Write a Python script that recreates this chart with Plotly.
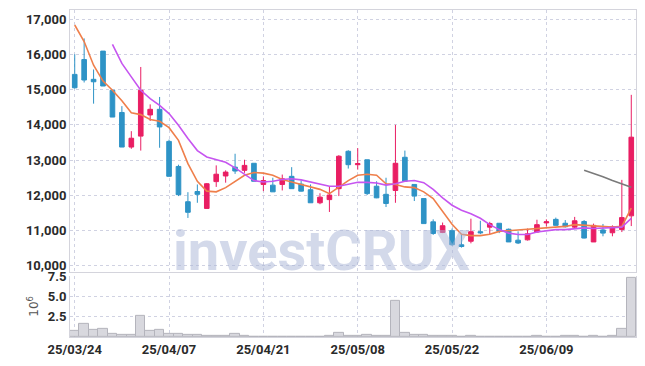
import plotly.graph_objects as go

dates = ["25/03/24", "25/03/25", "25/03/26", "25/03/27", "25/03/28", "25/03/31",
         "25/04/01", "25/04/02", "25/04/03", "25/04/04", "25/04/07", "25/04/08", "25/04/09", "25/04/10",
         "25/04/11", "25/04/14", "25/04/15", "25/04/16", "25/04/17", "25/04/18", "25/04/21", "25/04/22",
         "25/04/23", "25/04/24", "25/04/25", "25/04/28", "25/04/29", "25/04/30",
         "25/05/02", "25/05/07", "25/05/08", "25/05/09", "25/05/12", "25/05/13", "25/05/14", "25/05/15",
         "25/05/16", "25/05/19", "25/05/20", "25/05/21", "25/05/22", "25/05/23", "25/05/26", "25/05/27",
         "25/05/28", "25/05/29", "25/05/30",
         "25/06/02", "25/06/04", "25/06/05", "25/06/09", "25/06/10", "25/06/11", "25/06/12", "25/06/13",
         "25/06/16", "25/06/17", "25/06/18", "25/06/19", "25/06/20"]

opens = [15430, 15850, 15290, 16090, 14980, 14350, 13370, 13680, 14280, 14440,
         13530, 12820, 11820, 12110, 11630, 12390, 12550, 12800, 12710, 12910,
         12310, 12290, 12310, 12540, 12320, 12160, 11790, 11880, 12190, 13250,
         12870, 13010, 12260, 12030, 12140, 13080, 12310, 11910, 11250, 10950,
         11000, 10600, 10700, 10970, 11100, 11210, 11040, 10730, 10740, 10960,
         11220, 11320, 11210, 11100, 11260, 10680, 11020, 10940, 11030, 11420]
highs = [16000, 16450, 15570, 16090, 14980, 14530, 13820, 15640, 14580, 14790,
         13580, 12870, 12090, 12310, 12350, 12850, 12710, 13180, 13010, 12910,
         12540, 12500, 12590, 12800, 12420, 12310, 12060, 12240, 13140, 13280,
         13340, 13010, 12400, 12500, 14000, 13270, 12310, 11910, 11320, 11230,
         11060, 10900, 11340, 11280, 11250, 11210, 11060, 10980, 11060, 11310,
         11320, 11370, 11300, 11390, 11300, 11200, 11190, 11150, 12440, 14850]
lows = [15030, 15200, 14600, 15100, 14220, 13370, 13320, 13270, 14110, 13350,
        12540, 11980, 11360, 11790, 11630, 12240, 12360, 12610, 12640, 12400,
        12120, 12100, 12140, 12190, 12110, 11790, 11750, 11530, 11980, 12760,
        12730, 12010, 11920, 11670, 11790, 12400, 11840, 11200, 10880, 10930,
        10570, 10520, 10640, 10900, 10900, 10930, 10680, 10620, 10720, 10940,
        11120, 11150, 11090, 11060, 10780, 10680, 10840, 10840, 10960, 11130]
closes = [15050, 15270, 15220, 15100, 14220, 13370, 13620, 14980, 14440, 13940,
          12540, 12020, 11520, 12030, 12330, 12600, 12660, 12690, 12850, 12400,
          12420, 12100, 12470, 12190, 12120, 11790, 11950, 12010, 13110, 12870,
          12900, 12050, 11930, 11770, 12910, 12400, 11980, 11200, 10920, 11140,
          10600, 10550, 10970, 10940, 11200, 10980, 10680, 10650, 10910, 11170,
          11250, 11150, 11110, 11280, 10790, 11150, 10930, 11110, 11370, 13650]

ma_short = [16830, 16360, 15690, 15240, 14980, 14680, 14340, 14290, 14150, 14100,
            13920, 13560, 12900, 12400, 12120, 12100, 12220, 12400, 12570, 12650,
            12630, 12570, 12450, 12380, 12310, 12240, 12170, 12050, 12240, 12420,
            12570, 12600, 12570, 12330, 12310, 12240, 12220, 12100, 11910, 11560,
            11180, 10900, 10860, 10860, 10900, 10980, 11000, 11000, 11030, 11060,
            11080, 11100, 11120, 11170, 11150, 11120, 11100, 11100, 11120, 11640]
ma_mid = [None, None, None, None, 16280, 15740, 15360, 14980, 14740, 14550,
          14320, 13990, 13610, 13270, 13090, 13010, 12940, 12780, 12590, 12420,
          12380, 12400, 12450, 12470, 12440, 12380, 12310, 12260, 12260, 12320,
          12370, 12370, 12350, 12290, 12330, 12400, 12420, 12360, 12170, 11930,
          11720, 11580, 11480, 11350, 11170, 11030, 10930, 10890, 10890, 10960,
          11000, 11030, 11030, 11060, 11080, 11060, 11080, 11080, 11100, 11350]
ma_long = [None] * 54 + [12710, 12625, 12530, 12420, 12315, 12230]

volume_m = [0.78, 1.65, 0.90, 1.02, 0.42, 0.25, 0.25, 2.62, 0.80, 0.92,
            0.42, 0.40, 0.28, 0.25, 0.10, 0.10, 0.10, 0.40, 0.10, 0.08,
            0.08, 0.07, 0.07, 0.08, 0.08, 0.06, 0.08, 0.12, 0.50, 0.15,
            0.12, 0.25, 0.12, 0.10, 4.50, 0.52, 0.28, 0.25, 0.12, 0.10,
            0.10, 0.08, 0.10, 0.07, 0.07, 0.05, 0.05, 0.05, 0.05, 0.12,
            0.05, 0.04, 0.10, 0.10, 0.05, 0.10, 0.04, 0.10, 1.05, 7.40]

tick_dates = ["25/03/24", "25/04/07", "25/04/21", "25/05/08", "25/05/22", "25/06/09"]
price_ticks = [10000, 11000, 12000, 13000, 14000, 15000, 16000, 17000]
volume_ticks = [2.5, 5.0, 7.5]

UP = "#e91e63"
DOWN = "#2e93c6"
GRID = "#d0d2e2"
FRAME = "#d4d4dc"
TICKFONT = dict(family="Roboto, Lato, DejaVu Sans", size=13, color="#2a2a2a", weight="bold")

fig = go.Figure()
fig.add_trace(go.Candlestick(
    x=dates, open=opens, high=highs, low=lows, close=closes,
    increasing=dict(line=dict(color=UP, width=1), fillcolor=UP),
    decreasing=dict(line=dict(color=DOWN, width=1), fillcolor=DOWN),
    xaxis="x", yaxis="y", showlegend=False, hoverinfo="skip"))
fig.add_trace(go.Scatter(x=dates, y=ma_short, mode="lines",
                         line=dict(color="#ef7f4b", width=1.6), xaxis="x", yaxis="y",
                         showlegend=False, hoverinfo="skip"))
fig.add_trace(go.Scatter(x=dates, y=ma_mid, mode="lines",
                         line=dict(color="#c655f0", width=1.6), xaxis="x", yaxis="y",
                         showlegend=False, hoverinfo="skip"))
fig.add_trace(go.Scatter(x=dates, y=ma_long, mode="lines",
                         line=dict(color="#7a7a7a", width=1.6), xaxis="x", yaxis="y",
                         showlegend=False, hoverinfo="skip"))
fig.add_trace(go.Bar(x=dates, y=volume_m, xaxis="x2", yaxis="y2",
                     marker=dict(color="#d8d8de", line=dict(color="#b4b4bc", width=1)),
                     showlegend=False, hoverinfo="skip"))

fig.add_annotation(text="investCRUX", xref="paper", yref="paper", x=0.445, y=0.262,
                   xanchor="center", yanchor="middle", showarrow=False,
                   font=dict(family="Roboto, DejaVu Sans", size=56, color="rgba(168,180,214,0.5)",
                             weight="bold"))

fig.update_layout(
    width=645, height=366,
    margin=dict(l=70, r=9, t=10, b=29),
    paper_bgcolor="white", plot_bgcolor="white",
    bargap=0,
    xaxis=dict(type="category", domain=[0, 1], anchor="y", range=[-0.5, 59.5],
               rangeslider=dict(visible=False), showticklabels=False,
               tickvals=tick_dates, showgrid=True, gridcolor=GRID, griddash="dot", gridwidth=1,
               showline=True, linecolor=FRAME, linewidth=1, mirror=True, ticks="",
               matches="x2", automargin=False),
    yaxis=dict(domain=[0.199, 1], anchor="x", range=[9830, 17255],
               tickvals=price_ticks, tickformat=",", tickfont=TICKFONT,
               showgrid=True, gridcolor=GRID, griddash="dot", gridwidth=1,
               showline=True, linecolor=FRAME, linewidth=1, mirror=True, ticks="",
               zeroline=False, automargin=False),
    xaxis2=dict(type="category", domain=[0, 1], anchor="y2", range=[-0.5, 59.5],
                tickvals=tick_dates, ticktext=tick_dates, tickfont=TICKFONT, tickangle=0,
                showgrid=True, gridcolor=GRID, griddash="dot", gridwidth=1,
                showline=True, linecolor=FRAME, linewidth=1, mirror=False, ticks="",
                automargin=False),
    yaxis2=dict(domain=[0, 0.187], anchor="x2", range=[0, 7.6],
                tickvals=volume_ticks, ticktext=["2.5", "5.0", "7.5"], tickfont=TICKFONT,
                showgrid=True, gridcolor=GRID, griddash="dot", gridwidth=1,
                showline=True, linecolor=FRAME, linewidth=1, mirror=True, ticks="",
                zeroline=False, automargin=False,
                title=dict(text="10<sup>6</sup>", standoff=6,
                           font=dict(family="DejaVu Sans", size=12, color="#555"))),
)

fig.write_html("out.html", config={"displayModeBar": False},
               post_script="document.body.style.margin='0px';document.body.style.overflow='hidden';")
